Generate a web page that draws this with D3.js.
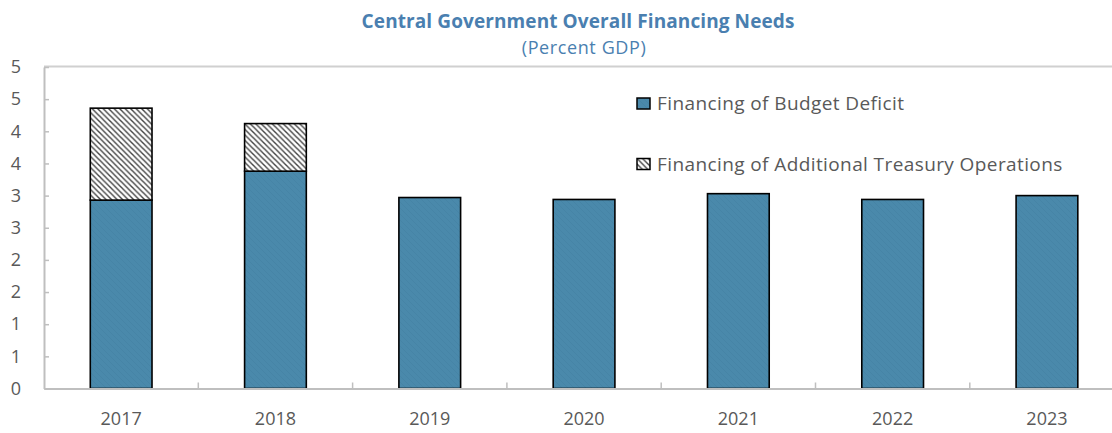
<!DOCTYPE html>
<html>
<head>
<meta charset="utf-8">
<script src="https://cdn.jsdelivr.net/npm/d3@7"></script>
<style>
  body { margin: 0; background: #fff; }
  svg { display: block; }
</style>
</head>
<body>
<svg id="chart" width="1112" height="433"></svg>
<script>

// chart data
var years = ["2017", "2018", "2019", "2020", "2021", "2022", "2023"];
var budgetDeficit = [2.93, 3.38, 2.97, 2.94, 3.03, 2.94, 3.00];
var treasuryOps = [1.43, 0.74, 0, 0, 0, 0, 0];
var seriesNames = ["Financing of Budget Deficit", "Financing of Additional Treasury Operations"];
var yTicks = [0, 0.5, 1, 1.5, 2, 2.5, 3, 3.5, 4, 4.5, 5];

var svg = d3.select("#chart");
var textGrey = "#595959",
    axisGrey = "#bfbfbf",
    titleBlue = "#4a7fb0";

var margin = {left: 44, top: 67, bottom: 388.5},
    plotRight = 44 + 154.3 * years.length;

var x = d3.scaleBand()
    .domain(years)
    .range([margin.left, plotRight])
    .paddingInner(0.6)
    .paddingOuter(0.3);

var y = d3.scaleLinear()
    .domain([0, 5])
    .range([margin.bottom, margin.top]);

// patterns
var defs = svg.append("defs");

var blue = defs.append("pattern")
    .attr("id", "blueFill")
    .attr("patternUnits", "userSpaceOnUse")
    .attr("width", 6).attr("height", 6);
blue.append("rect").attr("width", 6).attr("height", 6).attr("fill", "#4a89ab");
blue.append("path")
    .attr("d", "M0,0L6,6M-1,5L1,7M5,-1L7,1")
    .attr("stroke", "#4684a6").attr("stroke-width", 1);

var hatch = defs.append("pattern")
    .attr("id", "hatch")
    .attr("patternUnits", "userSpaceOnUse")
    .attr("width", 5.5).attr("height", 5.5);
hatch.append("rect").attr("width", 5.5).attr("height", 5.5).attr("fill", "#fff");
hatch.append("path")
    .attr("d", "M0,0L5.5,5.5M-1,4.5L1,6.5M4.5,-1L6.5,1")
    .attr("stroke", "#444").attr("stroke-width", 1.4);

var fills = ["url(#blueFill)", "url(#hatch)"];

// title
svg.append("text")
    .attr("x", (margin.left + plotRight) / 2 - 6)
    .attr("y", 28)
    .attr("text-anchor", "middle")
    .attr("font-family", "Open Sans, sans-serif")
    .attr("font-weight", "bold")
    .attr("font-size", "19px")
    .attr("letter-spacing", "0.1px")
    .attr("fill", titleBlue)
    .text("Central Government Overall Financing Needs");

svg.append("text")
    .attr("x", (margin.left + plotRight) / 2)
    .attr("y", 54)
    .attr("text-anchor", "middle")
    .attr("font-family", "Open Sans, sans-serif")
    .attr("font-size", "18px")
    .attr("letter-spacing", "0.6px")
    .attr("fill", titleBlue)
    .text("(Percent GDP)");

// plot frame top line
svg.append("line")
    .attr("x1", margin.left).attr("x2", plotRight)
    .attr("y1", margin.top - 0.5).attr("y2", margin.top - 0.5)
    .attr("stroke", "#d0d0d0").attr("stroke-width", 2);

// stacked bars
var table = years.map(function (yr, i) {
  return {year: yr, deficit: budgetDeficit[i], treasury: treasuryOps[i]};
});
var stack = d3.stack().keys(["deficit", "treasury"]);
var layers = stack(table);

svg.selectAll(".layer")
  .data(layers)
  .enter().append("g")
    .attr("class", "layer")
    .attr("fill", function (d, i) { return fills[i]; })
  .selectAll("rect")
  .data(function (d) { return d.filter(function (p) { return p[1] - p[0] > 0; }); })
  .enter().append("rect")
    .attr("x", function (d) { return x(d.data.year); })
    .attr("width", x.bandwidth())
    .attr("y", function (d) { return y(d[1]); })
    .attr("height", function (d) { return y(d[0]) - y(d[1]); })
    .attr("stroke", "#000")
    .attr("stroke-width", 1.6);

// y axis
var yAxis = svg.append("g")
    .attr("transform", "translate(" + margin.left + ",0)")
    .call(d3.axisLeft(y)
      .tickValues(yTicks)
      .tickSizeInner(-5)
      .tickSizeOuter(0)
      .tickPadding(23)
      .tickFormat(function (d) { return Math.round(d); }));
yAxis.select(".domain").attr("stroke", axisGrey).attr("stroke-width", 2);
yAxis.selectAll(".tick line").attr("stroke", axisGrey).attr("stroke-width", 1.5);
yAxis.selectAll(".tick text")
    .attr("font-family", "Open Sans, sans-serif")
    .attr("font-size", "18px")
    .attr("fill", textGrey);

// x axis
var xAxis = svg.append("g")
    .attr("transform", "translate(0," + margin.bottom + ")")
    .call(d3.axisBottom(x).tickSize(0).tickPadding(24));
xAxis.select(".domain").attr("stroke", axisGrey).attr("stroke-width", 2);
xAxis.selectAll(".tick text")
    .attr("font-family", "Open Sans, sans-serif")
    .attr("font-size", "18px")
    .attr("fill", textGrey);

// category separators on the x axis
xAxis.selectAll(".sep")
  .data(years.slice(1))
  .enter().append("line")
    .attr("class", "sep")
    .attr("x1", function (d) { return x(d) - x.step() * x.paddingInner() / 2; })
    .attr("x2", function (d) { return x(d) - x.step() * x.paddingInner() / 2; })
    .attr("y1", 0).attr("y2", -6)
    .attr("stroke", axisGrey).attr("stroke-width", 1.5);

// legend
var legend = svg.append("g")
    .attr("transform", "translate(637,98)");

var item = legend.selectAll(".item")
  .data(seriesNames)
  .enter().append("g")
    .attr("class", "item")
    .attr("transform", function (d, i) { return "translate(0," + (i * 60.5) + ")"; });

item.append("rect")
    .attr("width", 13).attr("height", 11)
    .attr("fill", function (d, i) { return fills[i]; })
    .attr("stroke", "#000").attr("stroke-width", 1.5);

item.append("text")
    .attr("x", 20).attr("y", 12)
    .attr("font-family", "Open Sans, sans-serif")
    .attr("font-size", "19px")
    .attr("letter-spacing", "0.4px")
    .attr("fill", textGrey)
    .text(function (d) { return d; });

</script>
</body>
</html>
